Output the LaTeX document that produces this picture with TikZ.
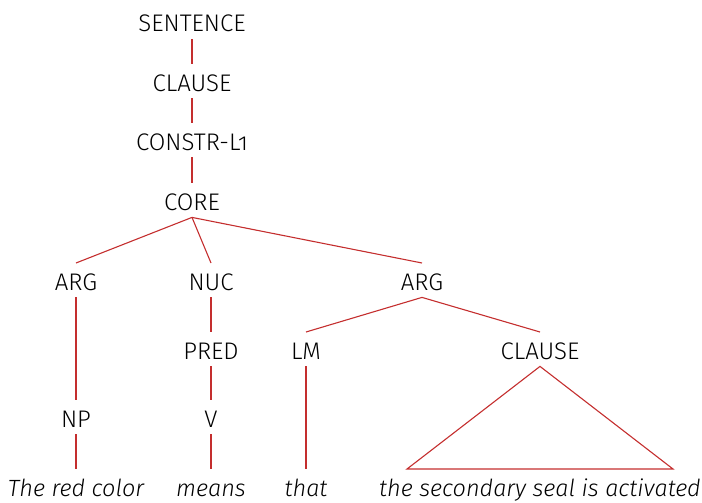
\documentclass[tikz,border=0pt]{standalone}
\usepackage{fontspec}
\setmainfont{Fira Sans Light}[ItalicFont=Fira Sans Light Italic, Numbers=OldStyle]
\definecolor{treered}{RGB}{196,46,46}
\tikzset{
	lbl/.style={anchor=base, font=\fontsize{12}{14}\selectfont, text height=9.8pt, text depth=0pt, inner xsep=0pt, inner ysep=3.5pt},
	word/.style={lbl, font=\fontsize{11.75}{14}\selectfont\itshape},
	edge/.style={draw=treered, line width=0.55pt}
}
\begin{document}
\begin{tikzpicture}[x=0.5pt, y=-0.5pt]
	\useasboundingbox (0,0) rectangle (702,503);
	\node [lbl] (sent) at (192,32) {SENTENCE};
	\node [lbl] (clause) at (192,91) {CLAUSE};
	\node [lbl] (constr) at (192,150) {CONSTR-L1};
	\node [lbl] (core) at (192,210) {CORE};
	\node [lbl] (arga) at (76,290) {ARG};
	\node [lbl] (nuc) at (211,290) {NUC};
	\node [lbl] (argb) at (422,290) {ARG};
	\node [lbl] (pred) at (211,359) {PRED};
	\node [lbl] (lm) at (306,359) {LM};
	\node [lbl] (clauseb) at (540,359) {CLAUSE};
	\node [lbl] (np) at (76,427) {NP};
	\node [lbl] (v) at (211,427) {V};
	\node [word] (wa) at (76,496) {The red color};
	\node [word] (wb) at (211,496) {means};
	\node [word] (wc) at (306,496) {that};
	\node [word] (wd) at (540,496) {the secondary seal is activated};
	\coordinate (tl) at ([xshift=-66.5pt]wd.north);
	\coordinate (tr) at ([xshift=66.5pt]wd.north);
	% tree edges
	\draw [edge] (sent.south) -- (clause.north);
	\draw [edge] (clause.south) -- (constr.north);
	\draw [edge] (constr.south) -- (core.north);
	\draw [edge] (core.south) -- (arga.north);
	\draw [edge] (core.south) -- (nuc.north);
	\draw [edge] (core.south) -- (argb.north);
	\draw [edge] (arga.south) -- (np.north);
	\draw [edge] (np.south) -- (wa.north);
	\draw [edge] (nuc.south) -- (pred.north);
	\draw [edge] (pred.south) -- (v.north);
	\draw [edge] (v.south) -- (wb.north);
	\draw [edge] (argb.south) -- (lm.north);
	\draw [edge] (argb.south) -- (clauseb.north);
	\draw [edge] (lm.south) -- (wc.north);
	\draw [edge] (clauseb.south) -- (tl) -- (tr) -- cycle;
\end{tikzpicture}
\end{document}
